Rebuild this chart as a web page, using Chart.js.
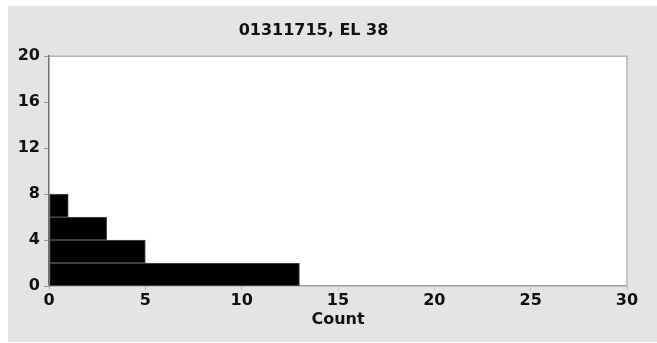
<!DOCTYPE html>
<html>
<head>
<meta charset="utf-8">
<script src="https://cdn.jsdelivr.net/npm/chart.js@4/dist/chart.umd.min.js"></script>
<style>
html,body{margin:0;padding:0;background:#fff;}
canvas{display:block;}
</style>
</head>
<body>
<canvas id="c" width="657" height="343"></canvas>
<script>
// Histogram bins (vertical value ranges) and counts
const binLow = [0, 2, 4, 6];
const binHigh = [2, 4, 6, 8];
const counts = [13, 5, 3, 1];
const yTicks = [0, 4, 8, 12, 16, 20];
const xTicks = [0, 5, 10, 15, 20, 25, 30];
const chartTitle = '01311715, EL 38';
const xTitle = 'Count';

const FONT = '"DejaVu Sans", sans-serif';

const bgPlugin = {
  id: 'bg',
  beforeDraw(chart) {
    const {ctx, chartArea: a} = chart;
    ctx.save();
    ctx.fillStyle = '#ffffff';
    ctx.fillRect(0, 0, chart.width, chart.height);
    ctx.fillStyle = '#e4e4e4';
    ctx.fillRect(8, 6, chart.width - 8, 336);
    ctx.fillStyle = '#ffffff';
    ctx.fillRect(a.left, a.top, a.right - a.left, a.bottom - a.top);
    ctx.restore();
  },
  afterDraw(chart) {
    const {ctx, chartArea: a} = chart;
    ctx.save();
    ctx.strokeStyle = '#b4b4b4';
    ctx.lineWidth = 1.5;
    ctx.beginPath();
    ctx.moveTo(a.left, a.top);
    ctx.lineTo(a.right, a.top);
    ctx.lineTo(a.right, a.bottom);
    ctx.stroke();
    ctx.restore();
  }
};

new Chart(document.getElementById('c'), {
  type: 'bar',
  data: {
    datasets: [{
      data: counts.map((c, i) => ({x: c, y: (binLow[i] + binHigh[i]) / 2})),
      backgroundColor: '#000000',
      borderColor: '#555555',
      borderWidth: 1,
      borderSkipped: false,
      barPercentage: 1,
      categoryPercentage: 1
    }]
  },
  options: {
    indexAxis: 'y',
    responsive: false,
    devicePixelRatio: 1,
    animation: false,
    layout: {padding: {top: 0, left: 0, right: 30, bottom: 0}},
    plugins: {
      legend: {display: false},
      tooltip: {enabled: false},
      title: {
        display: true,
        text: chartTitle,
        color: '#111',
        font: {family: FONT, size: 16, weight: 'bold'},
        padding: {top: 21, bottom: 16}
      }
    },
    scales: {
      y: {
        type: 'linear',
        min: 0, max: 20,
        offset: false,
        afterBuildTicks(s) { s.ticks = yTicks.map(v => ({value: v})); },
        afterFit(s) { s.width = 49; },
        ticks: {color: '#111', font: {family: FONT, size: 16, weight: 'bold'}, padding: 4},
        grid: {offset: false, drawOnChartArea: false, drawTicks: true, tickLength: 5, color: '#999'},
        border: {color: '#707070', width: 1.5}
      },
      x: {
        type: 'linear',
        min: 0, max: 30,
        offset: false,
        afterBuildTicks(s) { s.ticks = xTicks.map(v => ({value: v})); },
        afterFit(s) { s.height = 57; },
        ticks: {color: '#111', font: {family: FONT, size: 16, weight: 'bold'}, padding: 1, maxRotation: 0},
        grid: {offset: false, drawOnChartArea: false, drawTicks: true, tickLength: 4, color: '#bbb'},
        border: {color: '#a0a0a0', width: 1.5},
        title: {
          display: true,
          text: xTitle,
          color: '#111',
          font: {family: FONT, size: 16, weight: 'bold'},
          padding: {top: 0, bottom: 14}
        }
      }
    }
  },
  plugins: [bgPlugin]
});
</script>
</body>
</html>
